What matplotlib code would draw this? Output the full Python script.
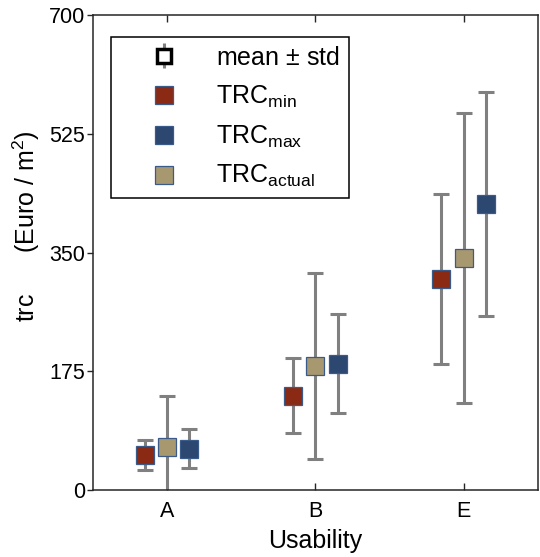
import numpy as np
import matplotlib
matplotlib.use("Agg")
import matplotlib.pyplot as plt

plt.rcParams['font.family'] = ['Liberation Sans', 'DejaVu Sans']
plt.rcParams['mathtext.fontset'] = 'custom'
plt.rcParams['mathtext.rm'] = 'Liberation Sans'

# Usability classes
categories = ['A', 'B', 'E']

# mean and std of trc per series
trc_min_mean = [52, 139, 311]
trc_min_std = [22, 55, 125]
trc_actual_mean = [63, 183, 342]
trc_actual_std = [75, 137, 214]
trc_max_mean = [61, 186, 421]
trc_max_std = [29, 73, 165]

series = [
    ('TRC$_{\\mathregular{min}}$', trc_min_mean, trc_min_std, '#8b2a14', -0.15),
    ('TRC$_{\\mathregular{max}}$', trc_max_mean, trc_max_std, '#2c4770', 0.15),
    ('TRC$_{\\mathregular{actual}}$', trc_actual_mean, trc_actual_std, '#a89870', 0.0),
]

tick_fs = 15.5
label_fs = 18
dpi = 100
fig = plt.figure(figsize=(540 / dpi, 557 / dpi), dpi=dpi)
ax = fig.add_axes([0.172, 0.12, 0.824, 0.853])

x = np.arange(1, len(categories) + 1)
err_color = '#808080'

# legend entry for mean +/- std
eb = ax.errorbar([], [], yerr=[], fmt='s', mfc='white', mec='black', mew=2.5,
                 ms=10, ecolor=err_color, elinewidth=2.2, capsize=5, capthick=2.2,
                 label='mean $\\pm$ std')

handles = [eb]
for label, mean, std, color, off in series:
    ax.errorbar(x + off, mean, yerr=std, fmt='none', ecolor=err_color,
                elinewidth=2.2, capsize=5.5, capthick=2.2, zorder=2)
    h, = ax.plot(x + off, mean, 's', ms=13, mfc=color, mec='#3a5a8a',
                 mew=0.9, linestyle='none', label=label, zorder=3)
    handles.append(h)

ax.set_xlim(0.5, 3.5)
ax.set_ylim(0, 700)
ax.set_xticks(x)
ax.set_xticklabels(categories)
ax.set_yticks([0, 175, 350, 525, 700])
ax.tick_params(axis='x', direction='in', top=True, labelsize=tick_fs, length=5,
               width=1, color='#262626', pad=8)
ax.tick_params(axis='y', direction='out', right=False, labelsize=tick_fs, length=4.5,
               width=1, color='#262626', pad=1)
for s in ax.spines.values():
    s.set_color('#262626')
    s.set_linewidth(1.1)

ax.set_xlabel('Usability', fontsize=label_fs, va='top')
ax.xaxis.set_label_coords(0.5, -0.082)
ax.set_ylabel('trc      (Euro / m$^2$)', fontsize=label_fs)
ax.yaxis.set_label_coords(-0.114, 0.555)

leg = ax.legend(handles=handles, loc='upper left', bbox_to_anchor=(0.04, 0.954),
                fontsize=label_fs, fancybox=False, edgecolor='black', framealpha=1,
                labelspacing=0.55, handletextpad=0.27, borderpad=0.35,
                handlelength=3.6, borderaxespad=0)
leg.get_frame().set_linewidth(1.1)

fig.savefig('out.png', dpi=dpi)
